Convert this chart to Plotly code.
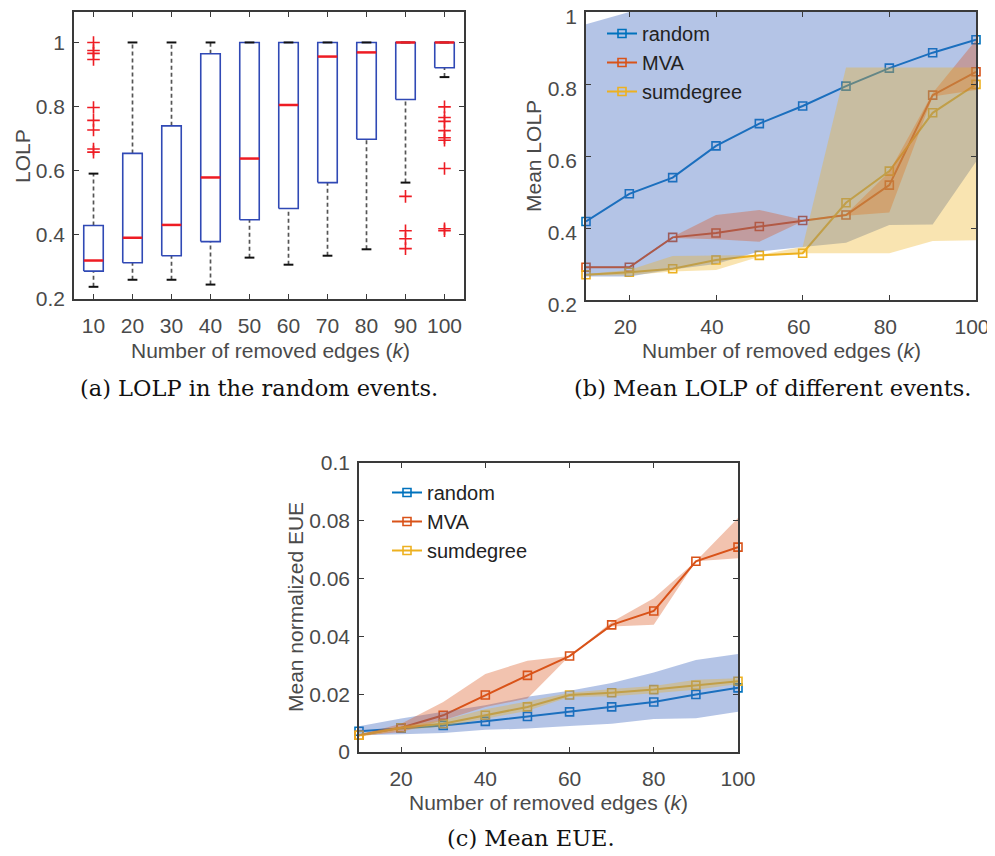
import plotly.graph_objects as go

# ---------------- data ----------------
k = [10, 20, 30, 40, 50, 60, 70, 80, 90, 100]
k_labels = [str(v) for v in k]

# (a) box plot statistics of LOLP for random events
box_q1 = [0.287, 0.313, 0.335, 0.379, 0.447, 0.482, 0.563, 0.698, 0.822, 0.921]
box_med = [0.320, 0.391, 0.431, 0.579, 0.638, 0.805, 0.956, 0.969, 1.0, 1.0]
box_q3 = [0.429, 0.654, 0.740, 0.965, 1.0, 1.0, 1.0, 1.0, 1.0, 1.0]
box_lo = [0.238, 0.260, 0.260, 0.245, 0.329, 0.307, 0.335, 0.355, 0.563, 0.892]
box_hi = [0.591, 1.0, 1.0, 1.0, 1.0, 1.0, 1.0, 1.0, 1.0, 1.0]
outlier_k = [10, 10, 10, 10, 10, 10, 10, 10, 10,
             90, 90, 90, 90,
             100, 100, 100, 100, 100, 100, 100, 100, 100]
outlier_v = [1.0, 0.975, 0.966, 0.947, 0.797, 0.757, 0.727, 0.668, 0.658,
             0.520, 0.413, 0.388, 0.357,
             0.799, 0.766, 0.754, 0.725, 0.703, 0.695, 0.607, 0.419, 0.413]

# (b) mean LOLP with bands
rand_mean = [0.418, 0.495, 0.540, 0.628, 0.690, 0.739, 0.794, 0.844, 0.887, 0.923]
rand_hi = [0.966, 1.0, 1.2, 1.2, 1.2, 1.2, 1.2, 1.2, 1.2, 1.2]
rand_lo = [0.265, 0.265, 0.285, 0.300, 0.335, 0.347, 0.359, 0.408, 0.410, 0.584]
mva_mean = [0.291, 0.291, 0.374, 0.386, 0.404, 0.421, 0.436, 0.519, 0.769, 0.834]
mva_hi = [0.293, 0.293, 0.376, 0.436, 0.450, 0.423, 0.438, 0.556, 0.775, 0.922]
mva_lo = [0.289, 0.289, 0.372, 0.369, 0.362, 0.419, 0.434, 0.443, 0.765, 0.783]
sum_mean = [0.270, 0.277, 0.287, 0.311, 0.324, 0.330, 0.470, 0.558, 0.720, 0.799]
sum_hi = [0.272, 0.283, 0.322, 0.323, 0.325, 0.348, 0.846, 0.846, 0.846, 0.846]
sum_lo = [0.268, 0.269, 0.279, 0.283, 0.320, 0.330, 0.330, 0.330, 0.364, 0.366]

# (c) mean normalized EUE with bands
rand_e = [0.0072, 0.0083, 0.0092, 0.0106, 0.0123, 0.0139, 0.0156, 0.0173, 0.0199, 0.0222]
rand_e_hi = [0.0089, 0.0116, 0.0139, 0.0162, 0.0191, 0.0212, 0.0239, 0.0275, 0.0318, 0.0339]
rand_e_lo = [0.0058, 0.0061, 0.0066, 0.0077, 0.0081, 0.0090, 0.0098, 0.0114, 0.0117, 0.0139]
mva_e = [0.0058, 0.0084, 0.0127, 0.0197, 0.0265, 0.0332, 0.0440, 0.0488, 0.0660, 0.0709]
mva_e_hi = [0.0060, 0.0098, 0.0173, 0.0270, 0.0316, 0.0332, 0.0450, 0.0532, 0.0660, 0.0810]
mva_e_lo = [0.0055, 0.0069, 0.0110, 0.0156, 0.0185, 0.0332, 0.0434, 0.0440, 0.0660, 0.0670]
sum_e = [0.0058, 0.0084, 0.0098, 0.0127, 0.0156, 0.0197, 0.0205, 0.0216, 0.0231, 0.0245]
sum_e_hi = [0.0062, 0.0090, 0.0110, 0.0148, 0.0175, 0.0205, 0.0218, 0.0228, 0.0250, 0.0255]
sum_e_lo = [0.0052, 0.0075, 0.0088, 0.0115, 0.0143, 0.0190, 0.0193, 0.0203, 0.0215, 0.0235]

series_names = ["random", "MVA", "sumdegree"]

# ---------------- styles ----------------
C_BLUE = "#0072BD"
C_RED = "#D95319"
C_YEL = "#EDB120"
F_BLUE = "rgba(68,108,192,0.40)"
F_RED = "rgba(217,83,25,0.35)"
F_YEL = "rgba(237,177,32,0.35)"
AX = "#3a3a3a"
TXT = "#4a4a4a"
SANS = "Liberation Sans, Arial, sans-serif"
SERIF = "DejaVu Serif, serif"

# the page body has an 8px default margin; size the figure so it fills the window
OFF = 8
W, H = 995 - OFF, 856 - OFF


def px_x(p):
    return (p - OFF) / W


def px_y(p):
    return 1 - (p - OFF) / H


fig = go.Figure()

# ---------------- (a) box plot ----------------
pos = list(range(1, len(k) + 1))
hw = 0.25   # half box width (category units)
cw = 0.125  # half cap width

bx, by = [], []
mx, my = [], []
wx, wy = [], []
cx, cy = [], []
for i, p in enumerate(pos):
    bx += [p - hw, p + hw, p + hw, p - hw, p - hw, None]
    by += [box_q1[i], box_q1[i], box_q3[i], box_q3[i], box_q1[i], None]
    mx += [p - hw, p + hw, None]
    my += [box_med[i], box_med[i], None]
    if box_lo[i] < box_q1[i]:
        wx += [p, p, None]
        wy += [box_lo[i], box_q1[i], None]
    if box_hi[i] > box_q3[i]:
        wx += [p, p, None]
        wy += [box_q3[i], box_hi[i], None]
    cx += [p - cw, p + cw, None, p - cw, p + cw, None]
    cy += [box_lo[i], box_lo[i], None, box_hi[i], box_hi[i], None]

ox = [pos[k.index(v)] for v in outlier_k]

fig.add_trace(go.Scatter(x=wx, y=wy, mode="lines", xaxis="x", yaxis="y",
                         line=dict(color="#555555", width=1.7, dash="4px,3px"),
                         showlegend=False, hoverinfo="skip"))
fig.add_trace(go.Scatter(x=bx, y=by, mode="lines", xaxis="x", yaxis="y",
                         line=dict(color="#3049B5", width=1.6),
                         showlegend=False, hoverinfo="skip"))
fig.add_trace(go.Scatter(x=cx, y=cy, mode="lines", xaxis="x", yaxis="y",
                         line=dict(color="#111111", width=2),
                         showlegend=False, hoverinfo="skip"))
fig.add_trace(go.Scatter(x=mx, y=my, mode="lines", xaxis="x", yaxis="y",
                         line=dict(color="#EE1C24", width=2.5),
                         showlegend=False, hoverinfo="skip"))
fig.add_trace(go.Scatter(x=ox, y=outlier_v, mode="markers", xaxis="x", yaxis="y",
                         marker=dict(symbol="cross-thin", size=9,
                                     line=dict(color="#EE1C24", width=1.6)),
                         showlegend=False, hoverinfo="skip"))


# ---------------- (b) and (c) lines + bands ----------------
def add_panel(xa, ya, legend, means, bands):
    colors = [C_BLUE, C_RED, C_YEL]
    fills = [F_BLUE, F_RED, F_YEL]
    for name, m, c in zip(series_names, means, colors):
        fig.add_trace(go.Scatter(
            x=k, y=m, mode="lines+markers", name=name, xaxis=xa, yaxis=ya,
            legend=legend, cliponaxis=False,
            line=dict(color=c, width=2),
            marker=dict(symbol="square-open", size=8, color=c, line=dict(width=1.6)),
        ))
    for (hi, lo), f in zip(bands, fills):
        fig.add_trace(go.Scatter(
            x=k + k[::-1], y=hi + lo[::-1], mode="lines", fill="toself",
            fillcolor=f, line=dict(width=0), xaxis=xa, yaxis=ya,
            showlegend=False, hoverinfo="skip",
        ))


add_panel("x2", "y2", "legend",
          [rand_mean, mva_mean, sum_mean],
          [(rand_hi, rand_lo), (mva_hi, mva_lo), (sum_hi, sum_lo)])
add_panel("x3", "y3", "legend2",
          [rand_e, mva_e, sum_e],
          [(rand_e_hi, rand_e_lo), (mva_e_hi, mva_e_lo), (sum_e_hi, sum_e_lo)])

# ---------------- axes ----------------
axis_common = dict(showline=True, linecolor=AX, linewidth=1.6, mirror="ticks",
                   ticks="inside", ticklen=5, tickwidth=1.3, tickcolor=AX,
                   showgrid=False, zeroline=False, automargin=False,
                   ticklabeloverflow="allow",
                   tickfont=dict(family=SANS, size=21, color=TXT))

fig.update_layout(
    width=W, height=H,
    margin=dict(l=0, r=0, t=0, b=0, autoexpand=False),
    paper_bgcolor="white", plot_bgcolor="white",
    showlegend=True,
    xaxis=dict(domain=[px_x(74), px_x(464)], anchor="y", range=[0.5, 10.5],
               tickmode="array", tickvals=pos, ticktext=k_labels,
               ticklabelstandoff=7, **axis_common),
    yaxis=dict(domain=[px_y(299), px_y(12)], anchor="x", range=[0.2, 1.095],
               tickmode="array", tickvals=[0.2, 0.4, 0.6, 0.8, 1.0],
               ticktext=["0.2", "0.4", "0.6", "0.8", "1"], ticklabelstandoff=3,
               **axis_common),
    xaxis2=dict(domain=[px_x(586), px_x(976)], anchor="y2", range=[10, 100],
                tickmode="array", tickvals=[20, 40, 60, 80, 100],
                ticklabelstandoff=7, ticklabelshift=-4, **axis_common),
    yaxis2=dict(domain=[px_y(300), px_y(12)], anchor="x2", range=[0.2, 1.0],
                tickmode="array", tickvals=[0.2, 0.4, 0.6, 0.8, 1.0],
                ticktext=["0.2", "0.4", "0.6", "0.8", "1"], ticklabelstandoff=3,
                ticklabelshift=5, **axis_common),
    xaxis3=dict(domain=[px_x(359), px_x(738)], anchor="y3", range=[10, 100],
                tickmode="array", tickvals=[20, 40, 60, 80, 100],
                ticklabelstandoff=7, **axis_common),
    yaxis3=dict(domain=[px_y(752), px_y(463)], anchor="x3", range=[0, 0.1],
                tickmode="array", tickvals=[0, 0.02, 0.04, 0.06, 0.08, 0.1],
                ticktext=["0", "0.02", "0.04", "0.06", "0.08", "0.1"],
                ticklabelstandoff=3, **axis_common),
    legend=dict(x=px_x(602), y=px_y(14), xanchor="left", yanchor="top",
                bgcolor="rgba(0,0,0,0)", borderwidth=0,
                font=dict(family=SANS, size=20, color="#222222"),
                tracegroupgap=0),
    legend2=dict(x=px_x(387), y=px_y(473), xanchor="left", yanchor="top",
                 bgcolor="rgba(0,0,0,0)", borderwidth=0,
                 font=dict(family=SANS, size=20, color="#222222"),
                 tracegroupgap=0),
)

# ---------------- titles and captions ----------------
ann = []


def label(text, x, y, size=21, angle=0, family=SANS, color=TXT):
    ann.append(dict(text=text, x=px_x(x), y=px_y(y), xref="paper", yref="paper",
                    xanchor="center", yanchor="middle", showarrow=False,
                    textangle=angle, font=dict(family=family, size=size, color=color)))


label("Number of removed edges (<i>k</i>)", 270, 350)
label("Number of removed edges (<i>k</i>)", 781, 350)
label("Number of removed edges (<i>k</i>)", 548, 802)
label("LOLP", 22, 156, angle=-90)
label("Mean LOLP", 533, 156, angle=-90)
label("Mean normalized EUE", 295, 607, angle=-90)
label("(a) LOLP in the random events.", 259, 388, size=22.5, family=SERIF, color="#111111")
label("(b) Mean LOLP of different events.", 772, 388, size=22.5, family=SERIF, color="#111111")
label("(c) Mean EUE.", 531, 838, size=22.5, family=SERIF, color="#111111")
fig.update_layout(annotations=ann)

fig.write_html("out.html")
